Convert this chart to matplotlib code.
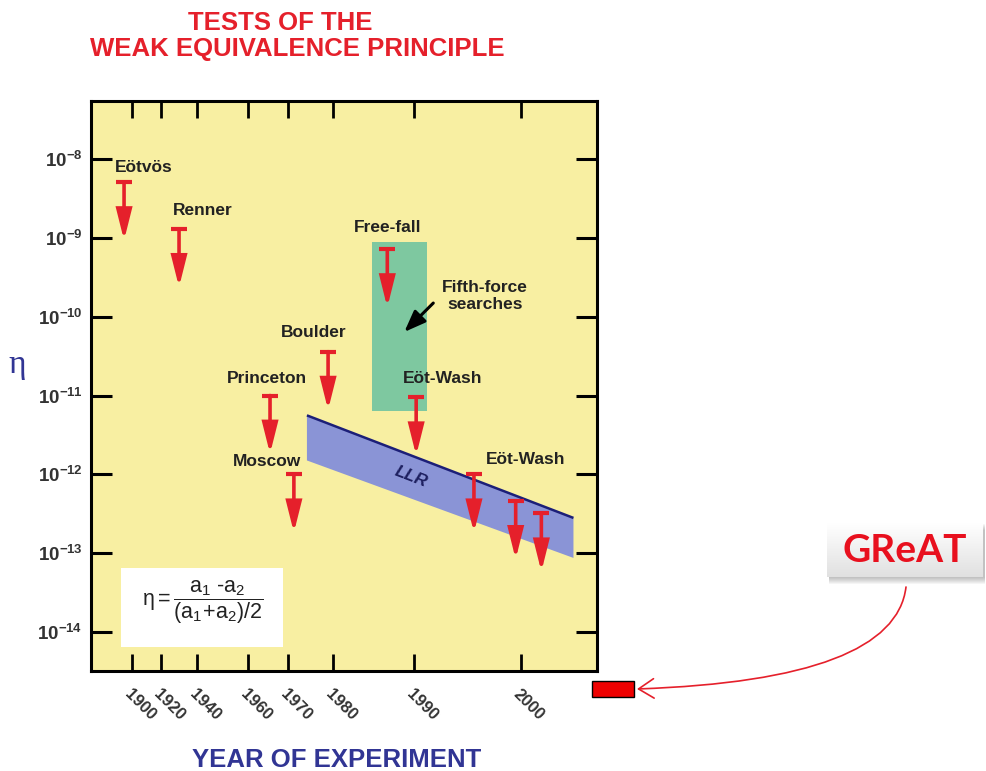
import numpy as np
import matplotlib
matplotlib.use("Agg")
import matplotlib.pyplot as plt
from matplotlib.patches import Rectangle, FancyArrowPatch
from matplotlib.path import Path
from matplotlib.ticker import NullLocator

# ---- data -------------------------------------------------------------
experiment = ["Eötvös", "Renner", "Princeton", "Moscow", "Boulder",
              "Free-fall", "Eöt-Wash", "Eöt-Wash", "Eöt-Wash", "Eöt-Wash"]
year = [1894.5, 1930.0, 1965.5, 1971.3, 1978.9,
        1986.7, 1990.2, 1995.6, 1999.5, 2001.9]
eta_limit = [5.1e-9, 1.3e-9, 1.0e-11, 1.0e-12, 3.6e-11,
             7.2e-10, 9.5e-12, 1.0e-12, 4.6e-13, 3.2e-13]

llr_year = [1974.2, 2004.9]
llr_upper = [5.6e-12, 2.8e-13]
llr_lower = [1.5e-12, 8.7e-14]

fifth_force_year = [1984.8, 1991.2]
fifth_force_eta = [6.4e-12, 8.9e-10]

great_year = [2006.6, 2010.6]
great_eta = [1.5e-15, 2.4e-15]

x_tick_years = [1900, 1920, 1940, 1960, 1970, 1980, 1990, 2000]
x_tick_labels = ["1900", "1920", "1940", "1960", "1970", "1980", "1990", "2000"]
y_ticks = [1e-8, 1e-9, 1e-10, 1e-11, 1e-12, 1e-13, 1e-14]
y_tick_labels = [r"$\mathregular{10^{-%d}}$" % k for k in range(8, 15)]

# ---- style ------------------------------------------------------------
RED = "#e5202b"
BLUE = "#313594"
INK = "#222222"
YELLOW = "#f8efa2"
GREEN = "#7ec8a0"
LLR_FILL = "#8a94d6"
LLR_EDGE = "#1c1f78"

plt.rcParams["font.family"] = ["Liberation Sans", "DejaVu Sans"]
plt.rcParams["mathtext.fontset"] = "custom"
plt.rcParams["mathtext.rm"] = "Liberation Sans"
plt.rcParams["mathtext.it"] = "Liberation Sans"
plt.rcParams["mathtext.bf"] = "Liberation Sans:bold"

# compressed time axis: piecewise-linear mapping of years onto the axis
knot_years = np.array([1800, 1900, 1920, 1940, 1960, 1970, 1980, 1990, 2000, 2100], float)
knot_units = np.array([-13, 132, 161, 197, 248, 288, 333, 414, 521, 1591], float)


def year_to_unit(v):
    return np.interp(v, knot_years, knot_units)


def unit_to_year(u):
    return np.interp(u, knot_units, knot_years)


W, H = 986, 771
fig = plt.figure(figsize=(W / 100, H / 100), dpi=100)
ax = fig.add_axes([91 / W, 1 - 671 / H, (597 - 91) / W, (671 - 101) / H])
ax.set_facecolor(YELLOW)
ax.set_xscale("function", functions=(year_to_unit, unit_to_year))
ax.set_yscale("log")
ax.set_xlim(1871.7, 2007.1)
ax.set_ylim(3.2e-15, 5.45e-8)

for s in ax.spines.values():
    s.set_linewidth(2.2)
    s.set_color("black")

ax.set_xticks(x_tick_years)
ax.set_xticklabels(x_tick_labels, rotation=-45, ha="left", va="top",
                   rotation_mode="anchor", fontsize=12, fontweight="bold",
                   color="#333333")
ax.xaxis.set_minor_locator(NullLocator())
ax.tick_params(axis="x", which="major", direction="in", length=12, width=2,
               top=True, bottom=True, pad=11)

ax.set_yticks(y_ticks)
ax.set_yticklabels(y_tick_labels, fontsize=13.5, fontweight="bold", color="#333333")
ax.yaxis.set_minor_locator(NullLocator())
ax.tick_params(axis="y", which="major", direction="in", length=15, width=2.2,
               left=True, right=True, pad=6)

# fifth-force search region and lunar laser ranging band
ax.add_patch(Rectangle((fifth_force_year[0], fifth_force_eta[0]),
                       fifth_force_year[1] - fifth_force_year[0],
                       fifth_force_eta[1] - fifth_force_eta[0],
                       facecolor=GREEN, edgecolor="none", zorder=1))
ax.fill_between(llr_year, llr_lower, llr_upper, facecolor=LLR_FILL,
                edgecolor="none", zorder=1)
ax.plot(llr_year, llr_upper, color=LLR_EDGE, lw=1.8, zorder=2,
        solid_capstyle="butt")

# upper-limit arrows
ARROW_DECADES = 0.74
for x, v in zip(year, eta_limit):
    tip = v / 10 ** ARROW_DECADES
    ax.annotate("", xy=(x, tip), xytext=(x, v),
                arrowprops=dict(arrowstyle="-|>,head_length=1.8,head_width=0.45",
                                mutation_scale=10, lw=2.6, color=RED,
                                shrinkA=0, shrinkB=0, joinstyle="miter"),
                zorder=4)
    ax.plot([x], [v], marker="_", ms=11.5, mew=3, color=RED, zorder=4)

# experiment labels, offset (pixels) from each arrow's cap
label_offset_px = [(20, -15), (24, -18), (-3, -17), (-27, -13), (-14, -19),
                   (0, -22), (26, -19), (52, -15), None, None]
for name, x, v, off in zip(experiment, year, eta_limit, label_offset_px):
    if off is None:
        continue
    ax.annotate(name, xy=(x, v), xytext=(off[0] * 0.72, -off[1] * 0.72),
                textcoords="offset points", ha="center", va="center",
                fontsize=12.5, fontweight="bold", color=INK, zorder=6)

# LLR label along the band
tl = ax.transData.transform((llr_year[0], llr_upper[0]))
tr = ax.transData.transform((llr_year[1], llr_upper[1]))
bl = ax.transData.transform((llr_year[0], llr_lower[0]))
br = ax.transData.transform((llr_year[1], llr_lower[1]))
t = 0.39
centre = (1 - t) * (tl + bl) / 2 + t * (tr + br) / 2
angle = np.degrees(np.arctan2(tr[1] - tl[1], tr[0] - tl[0]))
cx, cy = ax.transData.inverted().transform(centre)
ax.text(cx, cy, "LLR", rotation=angle, rotation_mode="anchor", ha="center",
        va="center", fontsize=12.5, fontweight="bold", style="italic",
        color="#1e2060", zorder=6)

# fifth-force annotation
ax.text(1996.6, 1.83e-10, "Fifth-force\nsearches", ha="center", va="center",
        fontsize=12.5, fontweight="bold", color=INK, linespacing=1.15, zorder=6)
ax.annotate("", xy=(1988.8, 6.4e-11), xytext=(1991.8, 1.49e-10),
            arrowprops=dict(arrowstyle="-|>,head_length=1.3,head_width=0.5",
                            mutation_scale=10, lw=2.2, color="black",
                            shrinkA=0, shrinkB=0), zorder=6)

# definition of eta
ax.add_patch(Rectangle((0.0593, 0.0421), 0.320, 0.1386, transform=ax.transAxes,
                       facecolor="white", edgecolor="none", zorder=7))
ax.text(0.221, 0.121, r"$\eta = \dfrac{a_1\ \text{-}a_2}{(a_1\!+\!a_2)/2}$",
        transform=ax.transAxes, ha="center", va="center", fontsize=15.5,
        color=INK, zorder=8)

# GReAT target sensitivity (below the plotted range)
ax.add_patch(Rectangle((great_year[0], great_eta[0]),
                       great_year[1] - great_year[0],
                       great_eta[1] - great_eta[0],
                       facecolor="#ee0000", edgecolor="black", lw=1,
                       clip_on=False, zorder=5))

# titles
fig.text(280 / W, 1 - 30 / H, "TESTS OF THE", ha="center", va="baseline",
         fontsize=18.5, fontweight="bold", color=RED)
fig.text(297 / W, 1 - 56 / H, "WEAK EQUIVALENCE PRINCIPLE", ha="center",
         va="baseline", fontsize=18.5, fontweight="bold", color=RED)
fig.text(337 / W, 1 - 767 / H, "YEAR OF EXPERIMENT", ha="center", va="baseline",
         fontsize=18.5, fontweight="bold", color=BLUE)
fig.text(17 / W, 1 - 365 / H, "η", ha="center", va="center", fontsize=24,
         family="Liberation Serif", color=BLUE)

# GReAT call-out box with soft shadow
bx0, by0, bx1, by1 = 827, 523, 983, 577
for k in range(7, 0, -1):
    fig.patches.append(Rectangle(((bx0 + 2) / W, 1 - (by1 + k) / H),
                                 (bx1 - bx0) / W, (by1 - by0) / H,
                                 transform=fig.transFigure, facecolor="#555555",
                                 edgecolor="none", alpha=0.06, zorder=1))
bax = fig.add_axes([bx0 / W, 1 - by1 / H, (bx1 - bx0) / W, (by1 - by0) / H], zorder=2)
grad = np.linspace(1.0, 0.88, 64)[:, None] * np.ones((1, 4))
bax.imshow(np.dstack([grad, grad, grad]), aspect="auto", extent=(0, 1, 0, 1),
           origin="upper")
bax.set_axis_off()
bax.text(0.5, 0.5, "GReAT", ha="center", va="center", fontsize=28,
         fontweight="bold", family=["Lato", "DejaVu Sans"], color="#e8101e",
         transform=bax.transAxes)

# curved pointer from the box to the target marker
pts = [(906, 587), (895, 680), (637, 689)]
verts = [(px / W, 1 - py / H) for px, py in pts]
curve = FancyArrowPatch(path=Path(verts, [Path.MOVETO, Path.CURVE3, Path.CURVE3]),
                        arrowstyle="->,head_length=1.1,head_width=0.7",
                        mutation_scale=10, lw=1.2, color=RED,
                        transform=fig.transFigure)
fig.add_artist(curve)

fig.savefig("out.png", dpi=100)
